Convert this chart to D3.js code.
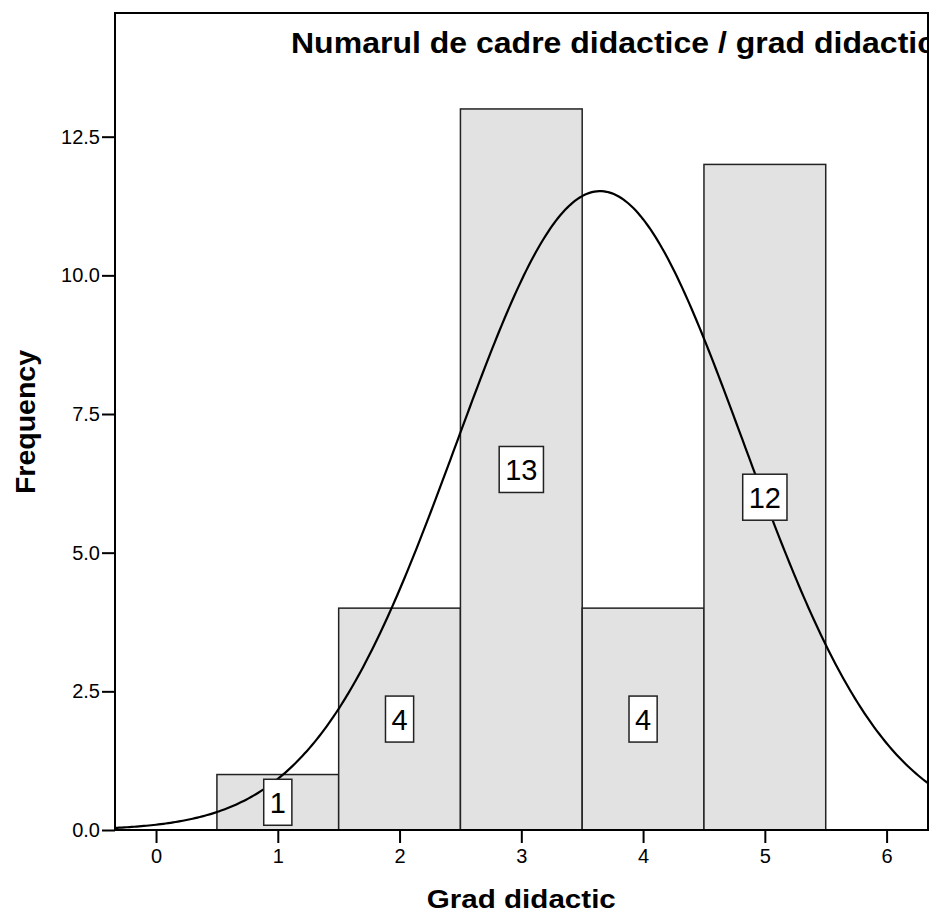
<!DOCTYPE html>
<html>
<head>
<meta charset="utf-8">
<script src="https://cdn.jsdelivr.net/npm/d3@7"></script>
<style>
  html, body { margin: 0; padding: 0; background: #fff; }
  svg { display: block; font-family: "Liberation Sans", Arial, sans-serif; }
</style>
</head>
<body>
<div id="chart"></div>
<script>
// ---- data ----
const grades = [1, 2, 3, 4, 5];
const counts = [1, 4, 13, 4, 12];
const xTicks = [0, 1, 2, 3, 4, 5, 6];
const yTicks = [0, 2.5, 5, 7.5, 10, 12.5];
const title = "Numarul de cadre didactice / grad didactic";
const xTitle = "Grad didactic";
const yTitle = "Frequency";

const W = 938, H = 913;
const plot = { left: 115, top: 13, right: 928, bottom: 830 };

const svg = d3.select("#chart").append("svg").attr("width", W).attr("height", H);

const x = d3.scaleLinear().domain([-0.337, 6.34]).range([plot.left, plot.right]);
const y = d3.scaleLinear().domain([0, 14.73]).range([plot.bottom, plot.top]);

svg.append("defs").append("clipPath").attr("id", "clip")
  .append("rect").attr("x", plot.left).attr("y", plot.top)
  .attr("width", plot.right - plot.left).attr("height", plot.bottom - plot.top);

// bars
const bars = grades.map((g, i) => ({ g, c: counts[i] }));
svg.append("g").selectAll("rect").data(bars).join("rect")
  .attr("x", d => x(d.g - 0.5))
  .attr("y", d => y(d.c))
  .attr("width", d => x(d.g + 0.5) - x(d.g - 0.5))
  .attr("height", d => y(0) - y(d.c))
  .attr("fill", "#e2e2e2")
  .attr("stroke", "#222")
  .attr("stroke-width", 1.5);

// normal curve fitted to data
const N = d3.sum(counts);
const mean = d3.sum(grades.map((g, i) => g * counts[i])) / N;
const variance = d3.sum(grades.map((g, i) => counts[i] * (g - mean) ** 2)) / (N - 1);
const sd = Math.sqrt(variance);
const pdf = v => N * 1 * Math.exp(-0.5 * ((v - mean) / sd) ** 2) / (sd * Math.sqrt(2 * Math.PI));
const xs = d3.range(-0.4, 6.45, 0.02);
svg.append("path")
  .attr("clip-path", "url(#clip)")
  .attr("d", d3.line().x(v => x(v)).y(v => y(pdf(v)))(xs))
  .attr("fill", "none").attr("stroke", "#000").attr("stroke-width", 2.2);

// value labels
const lbl = svg.append("g").selectAll("g").data(bars).join("g")
  .attr("transform", d => `translate(${x(d.g)},${y(d.c / 2)})`);
lbl.append("text")
  .attr("text-anchor", "middle").attr("dy", "0.36em")
  .attr("font-size", 29).attr("fill", "#000")
  .text(d => d.c)
  .each(function () {
    const b = this.getBBox();
    d3.select(this.parentNode).insert("rect", "text")
      .attr("x", b.x - 6).attr("y", -23)
      .attr("width", b.width + 12).attr("height", 46)
      .attr("fill", "#fff").attr("stroke", "#222").attr("stroke-width", 1.5);
  });

// frame
svg.append("rect").attr("x", plot.left).attr("y", plot.top)
  .attr("width", plot.right - plot.left).attr("height", plot.bottom - plot.top)
  .attr("fill", "none").attr("stroke", "#000").attr("stroke-width", 2);

// axes
const yAxis = svg.append("g").attr("transform", `translate(${plot.left},0)`)
  .call(d3.axisLeft(y).tickValues(yTicks).tickFormat(d3.format(".1f")).tickSize(13).tickPadding(2));
const xAxis = svg.append("g").attr("transform", `translate(0,${plot.bottom})`)
  .call(d3.axisBottom(x).tickValues(xTicks).tickFormat(d3.format("d")).tickSize(13).tickPadding(6));
[yAxis, xAxis].forEach(a => {
  a.select(".domain").remove();
  a.selectAll(".tick line").attr("stroke", "#000").attr("stroke-width", 2);
  a.selectAll(".tick text").attr("font-size", 20).attr("fill", "#000")
    .attr("font-family", "'Liberation Sans', Arial, sans-serif");
});

// title (clipped to plot)
svg.append("text").attr("clip-path", "url(#clip)")
  .attr("x", 291).attr("y", 53)
  .attr("font-size", 29).attr("font-weight", "bold").attr("fill", "#000")
  .attr("textLength", 644).attr("lengthAdjust", "spacingAndGlyphs")
  .text(title);

// axis titles
svg.append("text").attr("x", x(3)).attr("y", 908)
  .attr("text-anchor", "middle").attr("font-size", 25.5).attr("font-weight", "bold")
  .attr("textLength", 189).attr("lengthAdjust", "spacingAndGlyphs")
  .text(xTitle);
svg.append("text").attr("transform", "translate(35,422) rotate(-90)")
  .attr("text-anchor", "middle").attr("font-size", 28.5).attr("font-weight", "bold")
  .text(yTitle);
</script>
</body>
</html>
